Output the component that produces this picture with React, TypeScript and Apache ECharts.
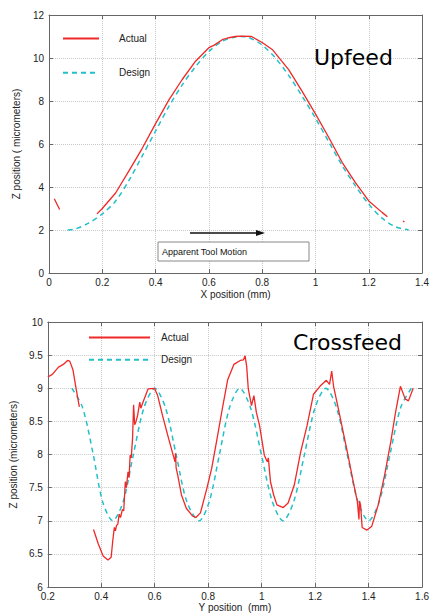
import React, { useEffect, useRef } from "react";
import * as echarts from "echarts";

// ---------- Upfeed (top) ----------
const topDesign: number[][] = [
  [0.07, 2.0], [0.1, 2.05], [0.15, 2.33], [0.2, 2.75], [0.25, 3.35], [0.3, 4.3],
  [0.35, 5.45], [0.4, 6.6], [0.45, 7.75], [0.5, 8.75], [0.55, 9.6], [0.6, 10.3],
  [0.65, 10.78], [0.7, 10.98], [0.72, 11.0], [0.75, 10.95], [0.8, 10.6], [0.85, 10.0],
  [0.9, 9.18], [0.95, 8.22], [1.0, 7.2], [1.05, 6.1], [1.1, 5.0], [1.15, 4.05],
  [1.2, 3.2], [1.25, 2.55], [1.3, 2.15], [1.35, 2.0],
];
const topActualA: number[][] = [[0.02, 3.45], [0.03, 3.2], [0.04, 2.95]];
const topActualB: number[][] = [
  [0.18, 2.75], [0.2, 3.0], [0.25, 3.72], [0.3, 4.75], [0.35, 5.8], [0.4, 6.95],
  [0.45, 8.05], [0.5, 9.0], [0.55, 9.85], [0.6, 10.48], [0.62, 10.6], [0.65, 10.85],
  [0.67, 10.93], [0.7, 11.0], [0.72, 11.02], [0.76, 11.0], [0.8, 10.72], [0.84, 10.37],
  [0.9, 9.45], [0.95, 8.45], [1.0, 7.4], [1.05, 6.3], [1.1, 5.15], [1.15, 4.2],
  [1.2, 3.35], [1.25, 2.82], [1.27, 2.62],
];
const topActualC: number[][] = [[1.328, 2.42], [1.334, 2.38]];
const topXTicks = { min: 0, max: 1.4, interval: 0.2 };
const topYTicks = { min: 0, max: 12, interval: 2 };

// ---------- Crossfeed (bottom) ----------
const botDesign: number[][] = [
  [0.29, 9.0], [0.33, 8.71], [0.37, 8.0], [0.405, 7.29], [0.443, 7.0], [0.482, 7.29],
  [0.52, 8.0], [0.56, 8.71], [0.6, 9.0], [0.64, 8.71], [0.68, 8.0], [0.72, 7.29],
  [0.766, 7.0], [0.804, 7.29], [0.842, 8.0], [0.88, 8.71], [0.918, 9.0], [0.958, 8.71],
  [0.999, 8.0], [1.04, 7.29], [1.08, 7.0], [1.12, 7.29], [1.16, 8.0], [1.2, 8.71],
  [1.24, 9.0], [1.28, 8.71], [1.32, 8.0], [1.36, 7.29], [1.4, 7.0], [1.44, 7.29],
  [1.48, 8.0], [1.52, 8.71], [1.56, 9.0],
];
const botActualA: number[][] = [
  [0.2, 9.17], [0.217, 9.21], [0.24, 9.32], [0.258, 9.36], [0.274, 9.42], [0.282, 9.41],
  [0.294, 9.28], [0.306, 8.99], [0.318, 8.72],
];
const botActualB: number[][] = [
  [0.371, 6.87], [0.389, 6.65], [0.407, 6.47], [0.425, 6.41], [0.437, 6.45], [0.443, 6.7],
  [0.449, 6.9], [0.453, 6.85], [0.457, 6.93], [0.462, 6.95], [0.467, 7.1], [0.472, 7.05],
  [0.479, 7.17], [0.484, 7.15], [0.49, 7.59], [0.494, 7.5], [0.5, 7.74], [0.504, 7.65],
  [0.508, 7.99], [0.512, 7.95], [0.517, 8.24], [0.521, 8.75], [0.525, 8.45], [0.53, 8.5],
  [0.536, 8.59], [0.544, 8.79], [0.548, 8.7], [0.557, 8.8], [0.575, 8.99], [0.599, 9.0],
  [0.611, 8.89], [0.629, 8.59], [0.652, 8.24], [0.676, 7.89], [0.678, 8.02], [0.68, 7.8],
  [0.686, 7.69], [0.7, 7.39], [0.718, 7.19], [0.742, 7.07], [0.754, 7.05], [0.771, 7.12],
  [0.795, 7.49], [0.813, 7.79], [0.831, 8.19], [0.855, 8.74], [0.873, 9.13], [0.896, 9.36],
  [0.92, 9.42], [0.932, 9.43], [0.938, 9.49], [0.944, 9.33], [0.95, 8.99], [0.962, 8.74],
  [0.971, 8.89], [0.98, 8.64], [0.992, 8.44], [1.01, 7.99], [1.021, 7.89], [1.025, 7.95],
  [1.033, 7.59], [1.045, 7.39], [1.057, 7.24], [1.081, 7.2], [1.099, 7.27], [1.122, 7.54],
  [1.146, 8.04], [1.17, 8.44], [1.194, 8.91], [1.218, 9.03], [1.242, 9.12], [1.254, 9.06],
  [1.262, 9.26], [1.269, 9.03], [1.287, 8.69], [1.305, 8.34], [1.323, 7.99], [1.34, 7.64],
  [1.358, 7.29], [1.364, 7.02], [1.366, 7.3], [1.37, 7.24], [1.376, 6.9], [1.394, 6.86],
  [1.412, 6.92], [1.436, 7.24], [1.46, 7.69], [1.483, 8.19], [1.501, 8.64], [1.519, 9.03],
  [1.537, 8.84], [1.549, 8.81], [1.567, 9.0],
];
const botXTicks = { min: 0.2, max: 1.6, interval: 0.2 };
const botYTicks = { min: 6, max: 10, interval: 0.5 };

const RED = "#f02828";
const CYAN = "#22c0c8";
const FONT = "Liberation Sans";

function joinSegments(...segs: number[][][]): any[] {
  const out: any[] = [];
  segs.forEach((s, i) => {
    if (i > 0) out.push(["-", "-"]);
    s.forEach((p) => out.push(p));
  });
  return out;
}

function mainAxis(grid: number, ticks: any, name: string, nameGap: number, isY: boolean) {
  return {
    type: "value",
    gridIndex: grid,
    min: ticks.min,
    max: ticks.max,
    interval: ticks.interval,
    name,
    nameLocation: "middle",
    nameGap,
    nameTextStyle: { fontFamily: FONT, fontSize: 10, color: "#222" },
    axisLine: { show: true, onZero: false, lineStyle: { color: "#666", width: 1 } },
    axisTick: { show: true, inside: true, length: 4, lineStyle: { color: "#666" } },
    axisLabel: { fontFamily: FONT, fontSize: 10, color: "#222", margin: isY ? 5 : 4 },
    splitLine: { show: true, lineStyle: { type: "dotted", color: "#c8c8c8" } },
  };
}

function mirrorAxis(grid: number, ticks: any, position: string) {
  return {
    type: "value",
    gridIndex: grid,
    position,
    min: ticks.min,
    max: ticks.max,
    interval: ticks.interval,
    axisLine: { show: true, onZero: false, lineStyle: { color: "#666", width: 1 } },
    axisTick: { show: true, inside: true, length: 4, lineStyle: { color: "#666" } },
    axisLabel: { show: false },
    splitLine: { show: false },
  };
}

export default function App() {
  const ref = useRef<HTMLDivElement>(null);
  useEffect(() => {
    if (!ref.current) return;
    const chart = echarts.init(ref.current, undefined, { renderer: "svg" });
    const lineSeries = (name: string, x: number, y: number, data: any[], color: string, dashed: boolean) => ({
      type: "line",
      name,
      xAxisIndex: x,
      yAxisIndex: y,
      data,
      symbol: "none",
      showSymbol: false,
      connectNulls: false,
      smooth: dashed ? 0.3 : false,
      lineStyle: { color, width: dashed ? 1.5 : 1.3, type: dashed ? [5, 4] : "solid" },
      itemStyle: { color },
      z: dashed ? 2 : 3,
    });
    const legendCommon = {
      orient: "vertical",
      itemHeight: 14,
      selectedMode: false,
      data: ["Actual", "Design"],
      itemStyle: { opacity: 0 },
    };
    chart.setOption({
      animation: false,
      backgroundColor: "#ffffff",
      grid: [
        { left: 49, top: 15, width: 379, height: 258 },
        { left: 38, top: 322, width: 391, height: 268 },
      ],
      xAxis: [
        mainAxis(0, topXTicks, "X position (mm)", 16, false),
        mainAxis(1, botXTicks, "Y position  (mm)", 12, false),
        mirrorAxis(0, topXTicks, "top"),
        mirrorAxis(1, botXTicks, "top"),
      ],
      yAxis: [
        mainAxis(0, topYTicks, "Z position ( micrometers)", 17, true),
        mainAxis(1, botYTicks, "Z position (micrometers)", 18, true),
        mirrorAxis(0, topYTicks, "right"),
        mirrorAxis(1, botYTicks, "right"),
      ],
      legend: [
        {
          ...legendCommon,
          left: 57,
          top: 28,
          itemWidth: 36,
          itemGap: 23,
          textStyle: { fontFamily: FONT, fontSize: 10, color: "#222", padding: [0, 0, 0, 15] },
        },
        {
          ...legendCommon,
          left: 83,
          top: 327,
          itemWidth: 61,
          itemGap: 11,
          textStyle: { fontFamily: FONT, fontSize: 10, color: "#222", padding: [0, 0, 0, 6] },
        },
      ],
      series: [
        lineSeries("Design", 0, 0, topDesign, CYAN, true),
        lineSeries("Actual", 0, 0, joinSegments(topActualA, topActualB, topActualC), RED, false),
        lineSeries("Design", 1, 1, botDesign, CYAN, true),
        lineSeries("Actual", 1, 1, joinSegments(botActualA, botActualB), RED, false),
      ],
      graphic: [
        {
          type: "text",
          left: 314,
          top: 46,
          style: { text: "Upfeed", fontFamily: "DejaVu Sans", fontSize: 22, fill: "#000" },
          z: 10,
        },
        {
          type: "text",
          left: 293,
          top: 331,
          style: { text: "Crossfeed", fontFamily: "DejaVu Sans", fontSize: 22, fill: "#000" },
          z: 10,
        },
        {
          type: "line",
          shape: { x1: 190, y1: 233, x2: 258, y2: 233 },
          style: { stroke: "#111", lineWidth: 1.5 },
          z: 10,
        },
        {
          type: "polygon",
          shape: { points: [[265, 233], [256, 230], [256, 236]] },
          style: { fill: "#111" },
          z: 10,
        },
        {
          type: "rect",
          shape: { x: 158, y: 242, width: 151, height: 19 },
          style: { fill: "#fff", stroke: "#888", lineWidth: 1 },
          z: 10,
        },
        {
          type: "text",
          x: 162,
          y: 251.5,
          style: {
            text: "Apparent Tool Motion",
            fontFamily: FONT,
            fontSize: 9,
            fill: "#111",
            textVerticalAlign: "middle",
          },
          z: 11,
        },
      ],
    });
    return () => chart.dispose();
  }, []);
  return (
    <div
      ref={ref}
      style={{ position: "fixed", left: 0, top: 0, width: 432, height: 613, background: "#fff" }}
    />
  );
}
